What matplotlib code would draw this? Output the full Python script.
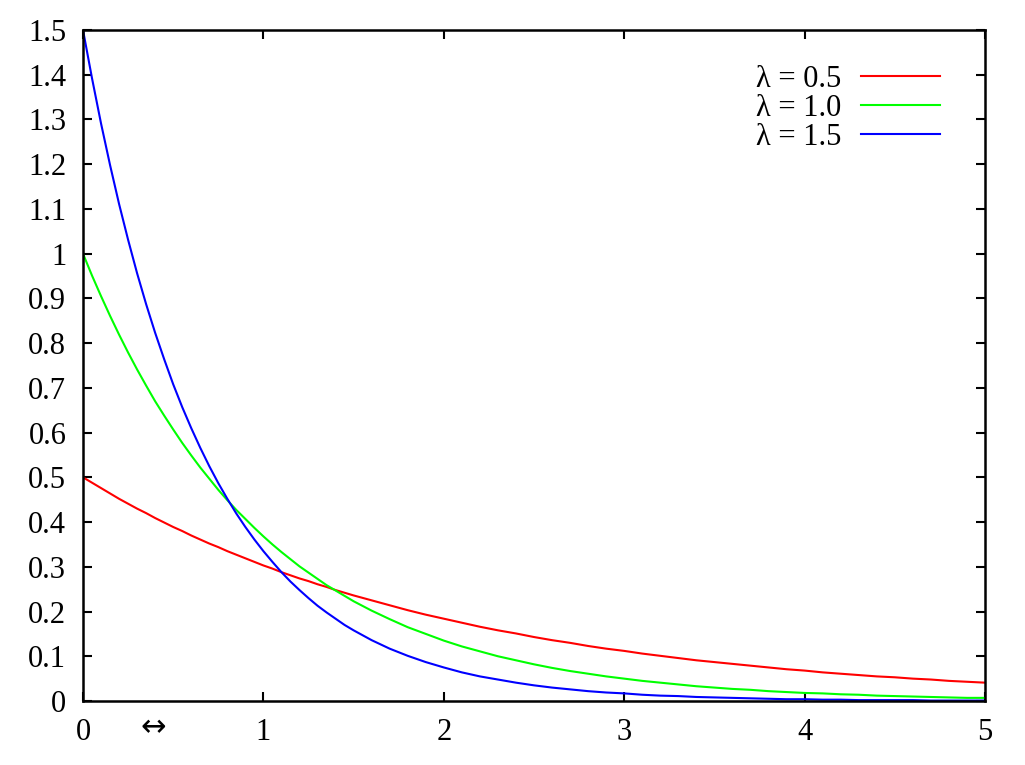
import matplotlib
matplotlib.use("Agg")
import matplotlib.pyplot as plt

# x positions where the curves were read off the picture
# (finer near the origin where the curves are steep)
x = [0.00, 0.05, 0.10, 0.15, 0.20, 0.25, 0.30, 0.35, 0.40, 0.45,
     0.50, 0.55, 0.60, 0.65, 0.70, 0.75, 0.80, 0.85, 0.90, 0.95,
     1.00, 1.05, 1.10, 1.15, 1.20, 1.25, 1.30, 1.35, 1.40, 1.45,
     1.50, 1.6, 1.7, 1.8, 1.9, 2.0, 2.1, 2.2, 2.3, 2.4,
     2.5, 2.6, 2.7, 2.8, 2.9, 3.0, 3.1, 3.2, 3.3, 3.4,
     3.5, 3.6, 3.7, 3.8, 3.9, 4.0, 4.1, 4.2, 4.3, 4.4,
     4.5, 4.6, 4.7, 4.8, 4.9, 5.0]

# lambda = 0.5
y_05 = [0.500, 0.488, 0.476, 0.464, 0.452, 0.441, 0.430, 0.420, 0.409, 0.399,
        0.389, 0.380, 0.370, 0.361, 0.352, 0.344, 0.335, 0.327, 0.319, 0.311,
        0.303, 0.296, 0.288, 0.281, 0.274, 0.268, 0.261, 0.255, 0.248, 0.242,
        0.236, 0.225, 0.214, 0.203, 0.193, 0.184, 0.175, 0.166, 0.158, 0.151,
        0.143, 0.136, 0.130, 0.123, 0.117, 0.112, 0.106, 0.101, 0.096, 0.091,
        0.087, 0.083, 0.079, 0.075, 0.071, 0.068, 0.064, 0.061, 0.058, 0.055,
        0.053, 0.050, 0.048, 0.045, 0.043, 0.041]
# lambda = 1.0
y_10 = [1.000, 0.951, 0.905, 0.861, 0.819, 0.779, 0.741, 0.705, 0.670, 0.638,
        0.607, 0.577, 0.549, 0.522, 0.497, 0.472, 0.449, 0.427, 0.407, 0.387,
        0.368, 0.350, 0.333, 0.317, 0.301, 0.287, 0.273, 0.259, 0.247, 0.235,
        0.223, 0.202, 0.183, 0.165, 0.150, 0.135, 0.122, 0.111, 0.100, 0.091,
        0.082, 0.074, 0.067, 0.061, 0.055, 0.050, 0.045, 0.041, 0.037, 0.033,
        0.030, 0.027, 0.025, 0.022, 0.020, 0.018, 0.017, 0.015, 0.014, 0.012,
        0.011, 0.010, 0.009, 0.008, 0.007, 0.007]
# lambda = 1.5
y_15 = [1.500, 1.392, 1.291, 1.198, 1.111, 1.031, 0.956, 0.887, 0.823, 0.764,
        0.708, 0.657, 0.610, 0.566, 0.525, 0.487, 0.452, 0.419, 0.389, 0.361,
        0.335, 0.311, 0.288, 0.267, 0.248, 0.230, 0.213, 0.198, 0.184, 0.170,
        0.158, 0.136, 0.117, 0.101, 0.087, 0.075, 0.064, 0.055, 0.048, 0.041,
        0.035, 0.030, 0.026, 0.022, 0.019, 0.017, 0.014, 0.012, 0.011, 0.009,
        0.008, 0.007, 0.006, 0.005, 0.004, 0.004, 0.003, 0.003, 0.002, 0.002,
        0.002, 0.002, 0.001, 0.001, 0.001, 0.001]

labels = ["λ = 0.5", "λ = 1.0", "λ = 1.5"]
colors = ["#ff0000", "#00ff00", "#0000ff"]

x_ticks = [0, 1, 2, 3, 4, 5]
y_ticks = [i / 10 for i in range(16)]
y_tick_labels = ["0", "0.1", "0.2", "0.3", "0.4", "0.5", "0.6", "0.7", "0.8",
                 "0.9", "1", "1.1", "1.2", "1.3", "1.4", "1.5"]

plt.rcParams["font.family"] = ["Liberation Serif", "DejaVu Serif"]

fig = plt.figure(figsize=(10.25, 7.65), dpi=100)
ax = fig.add_axes([83 / 1025, 64 / 765, 902 / 1025, 671 / 765])

for ys, lab, c in zip([y_05, y_10, y_15], labels, colors):
    ax.plot(x, ys, color=c, lw=1.5, label=lab)

ax.set_xlim(0, 5)
ax.set_ylim(0, 1.5)
ax.set_xticks(x_ticks)
ax.set_xticklabels([str(t) for t in x_ticks])
ax.set_yticks(y_ticks)
ax.set_yticklabels(y_tick_labels)
ax.tick_params(direction="in", length=6.5, width=1.5, labelsize=22,
               top=True, right=True, pad=12)
for s in ax.spines.values():
    s.set_linewidth(1.8)

ax.legend(loc="upper right", bbox_to_anchor=(0.991, 1.003), frameon=False,
          fontsize=22, markerfirst=False, handlelength=2.6, handletextpad=0.65,
          labelspacing=0.0, borderaxespad=0.9, borderpad=0.3)

fig.text(153 / 1025, 1 - 728 / 765, "↔", fontsize=22, family="DejaVu Sans",
         ha="center", va="center")

fig.savefig("out.png", dpi=100)
